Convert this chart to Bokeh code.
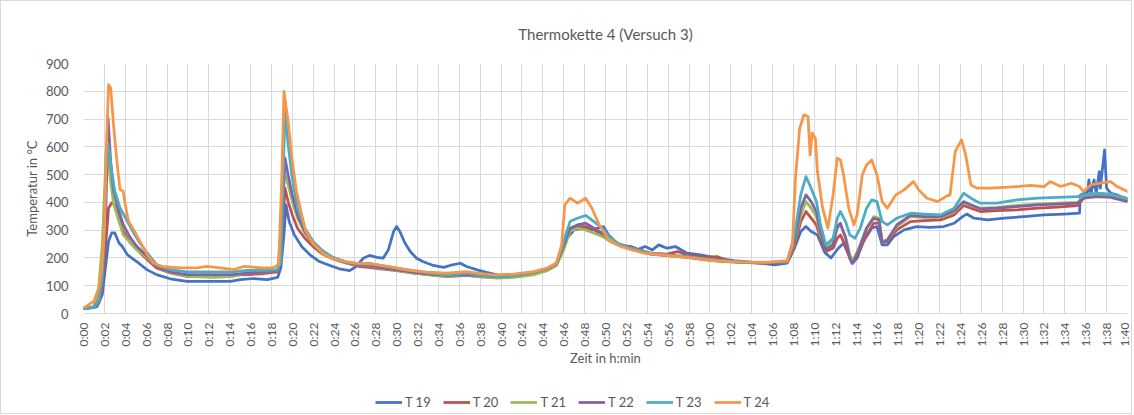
import math
from bokeh.plotting import figure
from bokeh.layouts import column
from bokeh.models import FixedTicker, Legend, LegendItem, Range1d, ColumnDataSource
from bokeh.embed import file_html
from bokeh.resources import INLINE

# ---------------- data (minutes, °C) ----------------
SERIES_NAMES = ["T 19", "T 20", "T 21", "T 22", "T 23", "T 24"]
SERIES_COLORS = ["#4472C4", "#C0504D", "#9BBB59", "#8064A2", "#4BACC6", "#F79646"]

T19 = [(0, 18), (0.8, 20), (1.3, 25), (1.8, 68), (2.1, 164), (2.4, 260), (2.7, 290), (3.0, 290),
       (3.4, 254), (3.7, 242), (4.2, 212), (4.6, 200), (5.3, 181), (6.1, 157), (7.0, 140), (8.3, 125),
       (9.9, 116), (12.5, 116), (14.1, 116), (15.0, 122), (16.3, 126), (17.6, 122), (18.6, 130),
       (18.9, 164), (19.2, 284), (19.4, 391), (19.7, 331), (20.2, 283), (20.9, 241), (21.7, 211),
       (22.6, 187), (23.6, 173), (24.5, 161), (25.5, 154), (26.1, 169), (26.8, 199), (27.4, 209),
       (28.1, 202), (28.7, 199), (29.2, 229), (29.7, 295), (30.0, 313), (30.3, 295), (30.8, 253),
       (31.3, 223), (31.9, 199), (32.5, 187), (33.5, 173), (34.5, 166), (35.1, 173), (36.1, 181),
       (36.7, 169), (37.7, 157), (38.6, 148), (39.6, 139), (41.2, 137), (43.1, 145), (44.4, 157),
       (45.3, 175), (45.8, 223), (46.3, 271), (47.0, 301), (47.9, 307), (48.6, 301), (49.2, 307),
       (49.8, 313), (50.3, 283), (51.1, 253), (52.1, 241), (53.0, 229), (53.8, 241), (54.5, 229),
       (55.1, 247), (55.9, 235), (56.7, 241), (57.8, 217), (59.1, 211), (60.7, 199), (62.3, 190),
       (64.2, 184), (66.2, 175), (67.4, 181), (68.1, 235), (68.7, 295), (69.2, 313), (69.7, 295),
       (70.3, 283), (71.0, 220), (71.6, 200), (72.3, 235), (72.8, 253), (73.3, 211), (73.6, 181),
       (74.1, 199), (74.7, 259), (75.5, 307), (76.0, 313), (76.5, 247), (77.0, 247), (77.6, 277),
       (78.6, 301), (79.8, 313), (81.1, 310), (82.4, 313), (83.4, 325), (84.2, 349), (84.6, 358),
       (85.3, 343), (86.6, 337), (88.2, 343), (90.1, 349), (92.0, 355), (93.9, 358), (95.4, 361),
       (95.5, 427), (96.2, 439), (96.3, 481), (96.5, 433), (96.8, 481), (97.0, 433), (97.3, 511),
       (97.4, 451), (97.8, 589), (98.0, 451), (98.4, 433), (99.0, 427), (100, 409)]

T20 = [(0, 18), (1.0, 22), (1.5, 40), (1.8, 92), (2.1, 236), (2.4, 380), (2.7, 398), (3.0, 392),
       (3.4, 344), (3.8, 296), (4.5, 254), (5.1, 230), (6.1, 194), (7.0, 164), (8.3, 146), (9.9, 134),
       (12.5, 134), (14.4, 138), (15.7, 140), (17.0, 143), (18.6, 150), (18.9, 190), (19.3, 451),
       (19.6, 403), (20.0, 355), (20.5, 307), (21.2, 271), (22.0, 241), (22.9, 214), (23.9, 196),
       (25.2, 181), (26.5, 169), (27.4, 166), (28.4, 161), (30.0, 154), (31.6, 145), (33.2, 139),
       (34.8, 133), (36.7, 137), (38.0, 132), (39.6, 130), (41.2, 134), (43.1, 146), (44.4, 160),
       (45.3, 178), (45.8, 230), (46.3, 295), (46.8, 305), (47.3, 313), (48.1, 313), (48.9, 301),
       (49.7, 283), (50.5, 259), (51.4, 244), (52.4, 242), (53.0, 233), (54.3, 217), (55.9, 214),
       (56.9, 223), (57.8, 211), (59.4, 202), (60.7, 205), (61.7, 190), (63.0, 184), (64.9, 181),
       (67.4, 184), (68.1, 241), (68.7, 331), (69.2, 367), (69.7, 343), (70.2, 319), (70.6, 271),
       (71.1, 223), (71.8, 235), (72.2, 271), (72.5, 283), (73.0, 241), (73.4, 199), (73.8, 187),
       (74.2, 217), (75.0, 283), (75.7, 325), (76.2, 325), (76.5, 259), (77.0, 259), (77.9, 301),
       (79.2, 331), (80.5, 334), (82.1, 337), (83.4, 355), (84.3, 389), (85.0, 379), (85.9, 367),
       (87.5, 370), (89.4, 373), (91.4, 379), (93.3, 383), (95.2, 388), (95.8, 415), (97.1, 427),
       (98.4, 421), (100, 409)]

T21 = [(0, 18), (1.0, 25), (1.4, 68), (1.8, 248), (2.0, 428), (2.2, 600), (2.6, 476), (2.9, 392),
       (3.4, 332), (3.8, 284), (4.5, 254), (5.1, 230), (6.1, 200), (7.0, 170), (8.3, 148), (9.9, 134),
       (12.5, 130), (14.4, 134), (15.7, 146), (17.6, 150), (18.6, 155), (18.9, 300), (19.2, 511),
       (19.6, 463), (20.0, 403), (20.5, 343), (21.2, 289), (22.0, 250), (22.9, 218), (23.9, 198),
       (25.2, 182), (26.5, 172), (27.4, 173), (28.4, 163), (30.0, 155), (31.6, 146), (33.2, 139),
       (34.8, 134), (36.7, 138), (38.0, 133), (39.6, 127), (41.2, 130), (43.1, 139), (44.4, 154),
       (45.3, 173), (46.0, 229), (46.6, 295), (47.3, 307), (48.1, 301), (48.9, 289), (49.7, 277),
       (50.5, 259), (51.4, 244), (52.7, 229), (54.3, 215), (55.9, 210), (57.8, 204), (59.4, 197),
       (61.0, 191), (63.0, 185), (64.9, 182), (67.4, 185), (68.1, 253), (68.7, 355), (69.2, 403),
       (69.7, 379), (70.2, 349), (70.6, 283), (71.1, 235), (71.8, 259), (72.2, 307), (72.5, 319),
       (73.0, 277), (73.4, 211), (73.7, 193), (74.2, 229), (75.0, 307), (75.7, 349), (76.2, 343),
       (76.5, 259), (77.0, 265), (77.9, 313), (79.2, 349), (80.5, 346), (82.1, 346), (83.4, 365),
       (84.3, 400), (85.0, 389), (85.9, 379), (87.5, 382), (89.4, 389), (91.4, 394), (93.3, 397),
       (95.2, 400), (95.8, 421), (97.1, 427), (98.4, 424), (100, 412)]

T22 = [(0, 18), (1.0, 22), (1.5, 50), (1.8, 140), (2.1, 308), (2.35, 704), (2.6, 548), (2.9, 440),
       (3.4, 368), (3.8, 320), (4.5, 272), (5.1, 242), (6.1, 206), (7.0, 170), (8.3, 150), (9.9, 140),
       (12.5, 140), (14.4, 140), (15.7, 146), (17.6, 150), (18.6, 155), (18.9, 200), (19.3, 559),
       (19.6, 499), (20.0, 427), (20.5, 355), (21.2, 295), (22.0, 253), (22.9, 221), (23.9, 199),
       (25.2, 184), (26.5, 173), (27.4, 175), (28.4, 166), (30.0, 157), (31.6, 149), (33.2, 142),
       (34.8, 137), (36.7, 139), (38.0, 137), (39.6, 132), (41.2, 136), (43.1, 148), (44.4, 161),
       (45.3, 178), (46.0, 247), (46.6, 307), (47.3, 319), (48.1, 325), (48.9, 307), (49.7, 289),
       (50.5, 265), (51.4, 245), (52.7, 229), (54.3, 214), (55.9, 208), (57.8, 202), (59.4, 194),
       (61.0, 188), (63.0, 184), (64.9, 182), (67.4, 185), (68.1, 259), (68.7, 379), (69.2, 427),
       (69.7, 403), (70.2, 367), (70.6, 295), (71.1, 229), (71.8, 247), (72.2, 313), (72.5, 325),
       (73.0, 271), (73.4, 199), (73.7, 181), (74.2, 223), (75.0, 307), (75.7, 343), (76.2, 337),
       (76.5, 253), (77.0, 265), (77.9, 319), (79.2, 353), (80.5, 349), (82.1, 349), (83.4, 370),
       (84.3, 403), (85.0, 391), (85.9, 377), (87.5, 379), (89.4, 385), (91.4, 391), (93.3, 394),
       (95.2, 397), (95.8, 415), (97.1, 421), (98.4, 418), (100, 403)]

T23 = [(0, 18), (1.0, 22), (1.45, 44), (1.8, 128), (2.0, 308), (2.2, 608), (2.35, 614), (2.7, 512),
       (3.0, 440), (3.5, 380), (4.2, 332), (4.8, 290), (5.4, 254), (6.1, 218), (7.0, 176), (8.3, 158),
       (9.9, 150), (12.5, 150), (14.4, 150), (15.7, 155), (17.6, 155), (18.6, 158), (18.9, 188),
       (19.3, 733), (19.6, 607), (20.0, 487), (20.5, 379), (21.2, 307), (22.0, 259), (22.9, 226),
       (23.9, 202), (25.2, 185), (26.5, 178), (27.4, 181), (28.4, 173), (30.0, 163), (31.6, 154),
       (33.2, 145), (34.8, 139), (36.7, 145), (38.0, 139), (39.6, 133), (41.2, 137), (43.1, 149),
       (44.4, 163), (45.3, 181), (46.0, 259), (46.6, 331), (47.3, 343), (48.1, 353), (48.9, 331),
       (49.7, 307), (50.5, 271), (51.4, 247), (52.7, 233), (54.3, 217), (55.9, 211), (57.8, 205),
       (59.4, 197), (61.0, 190), (63.0, 185), (64.9, 184), (67.4, 187), (68.1, 283), (68.7, 427),
       (69.2, 493), (69.7, 451), (70.2, 403), (70.6, 319), (71.1, 247), (71.8, 271), (72.2, 343),
       (72.5, 367), (73.0, 331), (73.4, 283), (73.9, 271), (74.4, 307), (75.0, 379), (75.5, 409),
       (76.0, 403), (76.5, 331), (77.0, 319), (77.9, 343), (79.2, 361), (80.5, 358), (82.1, 355),
       (83.4, 379), (84.3, 433), (85.0, 415), (85.9, 397), (87.5, 397), (89.4, 409), (91.4, 415),
       (93.3, 418), (95.2, 421), (95.8, 427), (97.1, 433), (98.4, 430), (100, 415)]

T24 = [(0, 20), (1.0, 44), (1.45, 92), (1.75, 164), (2.0, 308), (2.2, 608), (2.4, 824), (2.6, 812),
       (2.9, 668), (3.2, 548), (3.5, 446), (3.8, 440), (4.0, 392), (4.3, 332), (4.8, 302), (5.4, 260),
       (6.1, 212), (6.7, 182), (7.4, 170), (9.3, 164), (10.9, 164), (11.8, 170), (13.1, 164),
       (14.4, 158), (15.4, 170), (17.0, 164), (18.1, 164), (18.7, 176), (19.0, 500), (19.2, 800),
       (19.6, 691), (20.0, 547), (20.4, 439), (20.9, 355), (21.3, 295), (22.0, 253), (22.9, 217),
       (23.9, 197), (25.2, 187), (26.1, 181), (27.7, 178), (29.3, 169), (30.9, 157), (32.9, 149),
       (34.8, 145), (36.7, 151), (37.7, 145), (39.3, 139), (41.2, 142), (43.1, 151), (44.4, 163),
       (45.3, 181), (45.8, 247), (46.1, 391), (46.6, 415), (47.3, 397), (48.1, 415), (48.7, 379),
       (49.4, 319), (50.2, 271), (51.1, 247), (52.1, 233), (53.7, 217), (55.3, 211), (56.9, 205),
       (58.5, 199), (60.1, 190), (61.7, 187), (63.6, 185), (65.5, 184), (67.4, 190), (67.9, 247),
       (68.2, 487), (68.6, 667), (69.0, 715), (69.4, 709), (69.6, 571), (69.8, 649), (70.1, 631),
       (70.3, 511), (70.8, 379), (71.3, 307), (71.8, 427), (72.2, 559), (72.5, 553), (72.8, 499),
       (73.3, 379), (73.8, 319), (74.1, 355), (74.6, 499), (75.0, 535), (75.5, 553), (76.0, 499),
       (76.5, 403), (77.0, 379), (77.8, 427), (78.6, 445), (79.5, 475), (80.0, 445), (80.8, 415),
       (81.8, 403), (82.6, 421), (83.0, 427), (83.5, 583), (84.1, 625), (84.5, 571), (85.0, 463),
       (85.6, 451), (86.9, 451), (88.2, 454), (89.4, 457), (90.7, 461), (92.0, 457), (92.6, 475),
       (93.6, 457), (94.6, 469), (95.4, 457), (95.8, 439), (96.5, 463), (97.4, 469), (98.4, 475),
       (99.0, 457), (99.7, 445), (100, 439)]

SERIES_DATA = [T19, T20, T21, T22, T23, T24]

X_TICKS = list(range(0, 101, 2))
X_TICK_LABELS = {m: f"{m // 60}:{m % 60:02d}" for m in X_TICKS}
Y_TICKS = list(range(0, 901, 100))

TITLE = "Thermokette 4 (Versuch 3)"
X_LABEL = "Zeit in h:min"
Y_LABEL = "Temperatur in °C"

FONT = "Lato"
TEXT_COLOR = "#595959"
GRID_COLOR = "#d9d9d9"
LINE_WIDTH = 2.75

# ---------------- main chart ----------------
p = figure(width=1130, height=380, x_range=Range1d(0, 100), y_range=Range1d(0, 900),
           output_backend="svg", toolbar_location=None,
           min_border_left=82, min_border_right=4, min_border_top=61, min_border_bottom=68)

p.title.text = TITLE
p.title.align = "center"
p.title.text_font = FONT
p.title.text_font_size = "15px"
p.title.text_font_style = "normal"
p.title.text_color = TEXT_COLOR
p.title.standoff = 42

p.outline_line_color = None
p.background_fill_color = "white"
p.border_fill_color = "white"

p.xgrid.ticker = FixedTicker(ticks=X_TICKS)
p.ygrid.ticker = FixedTicker(ticks=Y_TICKS)
p.xgrid.grid_line_color = GRID_COLOR
p.ygrid.grid_line_color = GRID_COLOR

xa = p.xaxis[0]
xa.ticker = FixedTicker(ticks=X_TICKS)
xa.major_label_overrides = X_TICK_LABELS
xa.major_label_orientation = math.pi / 2
xa.axis_line_color = GRID_COLOR
xa.major_tick_line_color = None
xa.minor_tick_line_color = None
xa.major_label_text_font = FONT
xa.major_label_text_font_size = "12px"
xa.major_label_text_color = TEXT_COLOR
xa.major_label_standoff = 3
xa.axis_label = X_LABEL
xa.axis_label_text_font = FONT
xa.axis_label_text_font_size = "13px"
xa.axis_label_text_font_style = "normal"
xa.axis_label_text_color = TEXT_COLOR
xa.axis_label_standoff = 1

ya = p.yaxis[0]
ya.ticker = FixedTicker(ticks=Y_TICKS)
ya.axis_line_color = None
ya.major_tick_line_color = None
ya.minor_tick_line_color = None
ya.major_label_text_font = FONT
ya.major_label_text_font_size = "13px"
ya.major_label_text_color = TEXT_COLOR
ya.major_label_standoff = 9
ya.axis_label = Y_LABEL
ya.axis_label_text_font = FONT
ya.axis_label_text_font_size = "13px"
ya.axis_label_text_font_style = "normal"
ya.axis_label_text_color = TEXT_COLOR
ya.axis_label_standoff = 3

sources = []
for color, data in zip(SERIES_COLORS, SERIES_DATA):
    src = ColumnDataSource(dict(t=[d[0] for d in data], temp=[d[1] for d in data]))
    sources.append(src)
    p.line("t", "temp", source=src, line_color=color, line_width=LINE_WIDTH,
           line_join="round", line_cap="round")

# ---------------- legend strip below the chart ----------------
# The same series are drawn again in a strip whose ranges show none of them,
# so that only their legend entries are visible.
lg = figure(width=1130, height=32, x_range=Range1d(-20, -10), y_range=Range1d(-20, -10),
            output_backend="svg", toolbar_location=None,
            x_axis_type=None, y_axis_type=None,
            min_border_left=0, min_border_right=0, min_border_top=0, min_border_bottom=0)
lg.outline_line_color = None
lg.xgrid.visible = False
lg.ygrid.visible = False

items = []
for name, color, src in zip(SERIES_NAMES, SERIES_COLORS, sources):
    r = lg.line("t", "temp", source=src, line_color=color, line_width=LINE_WIDTH)
    items.append(LegendItem(label=name, renderers=[r]))

legend = Legend(items=items, orientation="horizontal", location=(292, 3),
                glyph_width=27, glyph_height=14, label_standoff=3, spacing=12,
                padding=0, margin=0, border_line_color=None, background_fill_alpha=0,
                label_text_font=FONT, label_text_font_size="13px",
                label_text_color=TEXT_COLOR, label_height=14)
lg.add_layout(legend, "center")

layout = column(p, lg, spacing=0, styles={"border": "1px solid #d9d9d9"})

open("out.html", "w").write(file_html(layout, INLINE))
